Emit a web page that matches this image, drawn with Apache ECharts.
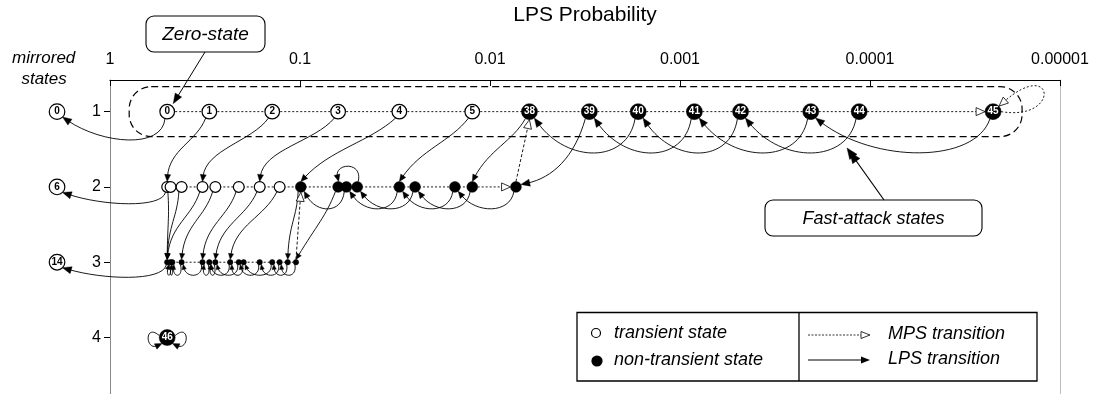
<!DOCTYPE html>
<html><head><meta charset="utf-8">
<script src="https://cdn.jsdelivr.net/npm/echarts@6/dist/echarts.min.js"></script>
<style>html,body{margin:0;padding:0;background:#fff}#c{width:1093px;height:394px}</style>
</head><body><div id="c"></div>
<script>
// ---------------- data ----------------
const xTickLabels = ['1', '0.1', '0.01', '0.001', '0.0001', '0.00001'];
const yTickValues = [1, 2, 3, 4];
const yTickLabels = ['1', '2', '3', '4'];
const xAxisName = 'LPS Probability';

// LPS probability of each state (index = state number)
const stateProb = [
  0.50, 0.30, 0.14, 0.063, 0.030, 0.0124,                 // 0-5
  0.50, 0.48, 0.42, 0.326, 0.279, 0.21, 0.163, 0.128,     // 6-13
  0.50, 0.48, 0.47, 0.42, 0.326, 0.30, 0.279, 0.233,      // 14-21
  0.21, 0.198, 0.163, 0.14, 0.128, 0.116, 0.105,          // 22-28
  0.099, 0.063, 0.057, 0.050, 0.030, 0.0248, 0.0153, 0.0124, 0.0073, // 29-37
  0.0062, 0.0030, 0.00166, 0.00084, 0.00048, 0.000205, 0.000114, 0.0000225, // 38-45
  0.50                                                    // 46
];
// number of mirrored states row
const stateRow = [
  1,1,1,1,1,1,
  2,2,2,2,2,2,2,2,
  3,3,3,3,3,3,3,3,3,3,3,3,3,3,3,
  2,2,2,2,2,2,2,2,2,
  1,1,1,1,1,1,1,1,
  4
];
// 1 = transient state (open circle)
const stateTransient = [
  1,1,1,1,1,1,
  1,1,1,1,1,1,1,1,
  0,0,0,0,0,0,0,0,0,0,0,0,0,0,0,
  0,0,0,0,0,0,0,0,0,
  0,0,0,0,0,0,0,0,
  0
];
// next state after MPS
const stateNMPS = [
  1,2,3,4,5,38,
  7,8,9,10,11,12,13,29,
  15,16,17,18,19,20,21,22,23,24,25,26,27,28,29,
  30,31,32,33,34,35,36,37,38,
  39,40,41,42,43,44,45,45,
  46
];
// next state after LPS ('m..' = mirrored state)
const stateNLPS = [
  'm0',6,9,12,29,33,
  'm6',14,14,14,17,18,20,21,
  'm14',14,15,16,17,18,19,19,20,21,22,23,24,25,26,
  27,28,29,30,31,32,33,34,35,
  36,37,38,39,40,41,42,43,
  46
];
const mirroredLabels = ['0', '6', '14'];
const mirroredRow = [1, 2, 3];
const mirroredProb = [1.9, 1.9, 1.9];

const legendNodeLabels = ['transient state', 'non-transient state'];
const legendEdgeLabels = ['MPS transition', 'LPS transition'];

// ---------------- helpers ----------------
const FONT = '"Liberation Sans", Arial, Helvetica, sans-serif';
const NARROW = '"Liberation Sans Narrow", "Liberation Sans", Arial, sans-serif';
const mpsArrowTargets = [37, 45];
const lpsAbove = [32];

function nodeRadius(row, tr) {
  if (row === 1) return tr ? 7.3 : 8;
  if (row === 2) return 5.4;
  if (row === 3) return 2.7;
  return 8;
}

const edges = [];
stateProb.forEach((p, i) => {
  edges.push({ kind: 'mps', from: i, to: stateNMPS[i] });
  edges.push({ kind: 'lps', from: i, to: stateNLPS[i] });
});

function nodePos(api, id) {
  if (typeof id === 'string') {
    const j = mirroredLabels.indexOf(id.slice(1));
    const c = api.coord([mirroredProb[j], mirroredRow[j]]);
    return { x: c[0], y: c[1], r: 7.8, row: mirroredRow[j] };
  }
  const c = api.coord([stateProb[id], stateRow[id]]);
  return { x: c[0], y: c[1], r: nodeRadius(stateRow[id], stateTransient[id] === 1), row: stateRow[id] };
}

function norm(v) { const l = Math.hypot(v[0], v[1]) || 1; return [v[0] / l, v[1] / l]; }
function arrow(tip, dir, len, hw, hollow) {
  const bx = tip[0] - dir[0] * len, by = tip[1] - dir[1] * len;
  const nx = -dir[1], ny = dir[0];
  return { type: 'polygon', z2: 3,
    shape: { points: [tip, [bx + nx * hw, by + ny * hw], [bx - nx * hw, by - ny * hw]] },
    style: { fill: hollow ? '#fff' : '#000', stroke: '#000', lineWidth: hollow ? 0.8 : 0.4 } };
}
function cubic(p0, p1, p2, p3, dash, lw) {
  return { type: 'bezierCurve',
    shape: { x1: p0[0], y1: p0[1], cpx1: p1[0], cpy1: p1[1], cpx2: p2[0], cpy2: p2[1], x2: p3[0], y2: p3[1] },
    style: { stroke: '#000', fill: 'none', lineWidth: lw || 0.9, lineDash: dash || null } };
}
function line(p0, p1, dash, lw) {
  return { type: 'line', shape: { x1: p0[0], y1: p0[1], x2: p1[0], y2: p1[1] },
    style: { stroke: '#000', lineWidth: lw || 0.9, lineDash: dash || null } };
}
function curveArrow(p0, p1, p2, p3, len, hw, hollow, dash) {
  const d = norm([p3[0] - p2[0], p3[1] - p2[1]]);
  const end = [p3[0] - d[0] * len * 0.7, p3[1] - d[1] * len * 0.7];
  return [cubic(p0, p1, p2, end, dash), arrow(p3, d, len, hw, hollow)];
}
function arrowSize(row) { return row === 1 ? [9, 3.6] : row === 2 ? [7, 3] : row === 3 ? [5, 2.2] : [7, 3]; }

function renderEdge(params, api) {
  const e = edges[params.dataIndex];
  const s = nodePos(api, e.from);
  const t = nodePos(api, e.to);
  let ch = [];
  const [al, ah] = arrowSize(s.row);
  if (e.kind === 'mps') {
    if (e.from === e.to) {
      if (s.row === 1) {
        ch = curveArrow([s.x + s.r, s.y], [s.x + 68, s.y + 10], [s.x + 62, s.y - 55],
          [s.x + 0.75 * s.r, s.y - 0.7 * s.r], 9, 4, true, [2, 2]);
      } else {
        ch = curveArrow([s.x - s.r, s.y - 2], [s.x - 23, s.y - 15], [s.x - 22, s.y + 14],
          [s.x - 0.65 * s.r, s.y + 0.75 * s.r], 7, 3, false);
      }
    } else if (t.row === s.row) {
      if (mpsArrowTargets.indexOf(e.to) >= 0) {
        const tip = [t.x - t.r, t.y];
        ch = [line([s.x + s.r, s.y], [tip[0] - 6, tip[1]], [2, 2]), arrow(tip, [1, 0], 9, 4, true)];
      } else {
        ch = [line([s.x, s.y], [t.x, t.y], [2, 2])];
      }
    } else {
      const start = [s.x, s.y - s.r], tip = [t.x, t.y + t.r];
      const d = norm([tip[0] - start[0], tip[1] - start[1]]);
      ch = [line(start, [tip[0] - d[0] * 6, tip[1] - d[1] * 6], [3, 2]), arrow(tip, d, 9, 4, true)];
    }
  } else {
    if (typeof e.to === 'string') {
      const h = s.row === 1 ? 38 : s.row === 2 ? 22 : 20;
      ch = curveArrow([s.x - 0.3 * s.r, s.y + 0.95 * s.r], [s.x - 5, s.y + h], [t.x + 45, t.y + 0.85 * h],
        [t.x + 0.7 * t.r, t.y + 0.7 * t.r], 9, 3.6, false);
    } else if (e.to === e.from) {
      ch = curveArrow([s.x + s.r, s.y - 2], [s.x + 23, s.y - 15], [s.x + 22, s.y + 14],
        [s.x + 0.65 * s.r, s.y + 0.75 * s.r], 7, 3, false);
    } else if (t.row === s.row) {
      const d = s.x - t.x;
      if (lpsAbove.indexOf(e.from) >= 0) {
        ch = curveArrow([s.x + 1, s.y - s.r], [s.x + 6, s.y - 26], [t.x - 4, t.y - 24],
          [t.x + 0.5, t.y - t.r], al, ah, false);
      } else {
        const h = s.row === 1 ? 52 : s.row === 2 ? 27 : 16;
        const sp = s.row === 3 ? 3 : 0;
        ch = curveArrow([s.x - 0.4 * s.r, s.y + 0.92 * s.r], [s.x - 0.1 * d + sp, s.y + h],
          [t.x + 0.35 * d - sp, t.y + h], [t.x + 0.6 * t.r, t.y + 0.8 * t.r], al, ah, false);
      }
    } else {
      const dx = s.x - t.x, dy = t.y - s.y;
      const [tl, th] = arrowSize(t.row);
      let c = s.row === 1 ? 0.3 : 0.1;
      if (stateTransient[e.to] === 1) c = 0.05;
      if (e.from === 30) c = 0.5;
      if (e.from === 39) {
        ch = curveArrow([s.x - 0.5 * s.r, s.y + 0.87 * s.r], [s.x - 0.2 * dx, s.y + 0.6 * dy],
          [t.x + 0.5 * dx, t.y - 0.12 * dy], [t.x + 0.9 * t.r, t.y - 0.45 * t.r], 9, 3.6, false);
      } else {
        ch = curveArrow([s.x - 0.5 * s.r, s.y + 0.87 * s.r], [s.x - 0.3 * dx, s.y + 0.4 * dy],
          [t.x + c * dx, t.y - 0.5 * dy], [t.x, t.y - t.r], Math.max(tl, 6), Math.max(th, 2.6), false);
      }
    }
  }
  return { type: 'group', children: ch };
}

function renderDecor(params, api) {
  const a = api.coord([stateProb[0], 1]);
  const b = api.coord([stateProb[45], 1]);
  const z0 = a;
  const ch = [];
  // dashed fast-attack enclosure
  ch.push({ type: 'rect', shape: { x: a[0] - 38, y: a[1] - 25, width: (b[0] + 29) - (a[0] - 38), height: 50, r: 22 },
    style: { fill: 'none', stroke: '#000', lineWidth: 1.2, lineDash: [7, 4] } });
  // Zero-state callout
  ch.push({ type: 'rect', shape: { x: 146, y: 16, width: 119, height: 36, r: 8 },
    style: { fill: '#fff', stroke: '#000', lineWidth: 1.1 } });
  ch.push({ type: 'text', style: { text: 'Zero-state', x: 205.5, y: 34.5, align: 'center', verticalAlign: 'middle',
    font: 'italic 19px ' + FONT, fill: '#000' } });
  const tip0 = [z0[0] + 6, z0[1] - 8];
  const d0 = norm([tip0[0] - 205, tip0[1] - 52]);
  ch.push(line([205, 52], [tip0[0] - d0[0] * 6, tip0[1] - d0[1] * 6], null, 1));
  ch.push(arrow(tip0, d0, 10, 3.8, false));
  // Fast-attack callout
  ch.push({ type: 'rect', shape: { x: 765, y: 200, width: 217, height: 36, r: 8 },
    style: { fill: '#fff', stroke: '#000', lineWidth: 1.1 } });
  ch.push({ type: 'text', style: { text: 'Fast-attack states', x: 873.5, y: 218.5, align: 'center', verticalAlign: 'middle',
    font: 'italic 18px ' + FONT, fill: '#000' } });
  const tip1 = [847, 148];
  const d1 = norm([tip1[0] - 884, tip1[1] - 200]);
  ch.push(line([884, 200], [tip1[0] - d1[0] * 8, tip1[1] - d1[1] * 8], null, 1.2));
  ch.push(arrow(tip1, d1, 11, 4.5, false));
  ch.push(arrow([tip1[0] + d1[0] * -5, tip1[1] + d1[1] * -5], d1, 11, 4.5, false));
  return { type: 'group', children: ch };
}

// ---------------- series data ----------------
const nodesData = stateProb.map((p, i) => {
  const row = stateRow[i], tr = stateTransient[i] === 1;
  const r = nodeRadius(row, tr);
  return {
    value: [p, row],
    symbolSize: 2 * r,
    itemStyle: tr ? { color: '#fff', borderColor: '#000', borderWidth: 1.2, opacity: 1 }
                  : { color: '#000', borderColor: '#000', borderWidth: 0.5, opacity: 1 },
    label: { show: row === 1 || row === 4, formatter: String(i), position: 'inside',
      color: tr ? '#000' : '#fff', fontWeight: 'bold', fontSize: 10,
      fontFamily: NARROW }
  };
});
const mirroredData = mirroredLabels.map((lab, j) => ({
  value: [mirroredProb[j], mirroredRow[j]],
  symbolSize: 15.6,
  itemStyle: { color: '#fff', borderColor: '#000', borderWidth: 1.2, opacity: 1 },
  label: { show: true, formatter: lab, position: 'inside', color: '#000', fontSize: 10, fontWeight: 'bold', fontFamily: NARROW }
}));

const chart = echarts.init(document.getElementById('c'));
chart.setOption({
  animation: false,
  backgroundColor: '#fff',
  grid: { left: 110, right: 33, top: 76, bottom: 0, containLabel: false },
  xAxis: {
    type: 'log', logBase: 10, min: 1e-5, max: 1, inverse: true, position: 'top', splitNumber: 5,
    name: xAxisName, nameLocation: 'middle', nameGap: 54,
    nameTextStyle: { fontSize: 21, color: '#000', fontFamily: FONT },
    axisLine: { show: true, lineStyle: { color: '#000', width: 1.2 } },
    axisTick: { show: true, inside: true, length: 6, lineStyle: { color: '#000' } },
    minorTick: { show: false }, splitLine: { show: false },
    axisLabel: { fontSize: 16, color: '#000', fontFamily: FONT, margin: 12,
      formatter: v => xTickLabels[Math.round(-Math.log10(v))] }
  },
  yAxis: [{
    type: 'value', min: 0.58, max: 4.75, inverse: true,
    axisLine: { show: true, lineStyle: { color: '#888', width: 1 } },
    axisTick: { show: true, length: 6, customValues: yTickValues, lineStyle: { color: '#000' } },
    axisLabel: { customValues: yTickValues, fontSize: 16, color: '#000', fontFamily: FONT, margin: 9,
      formatter: v => yTickLabels[yTickValues.indexOf(Math.round(v))] },
    splitLine: { show: false }
  }, {
    type: 'value', min: 0.58, max: 4.75, inverse: true, position: 'right',
    axisLine: { show: true, lineStyle: { color: '#bbb', width: 1 } },
    axisTick: { show: false }, axisLabel: { show: false }, splitLine: { show: false }
  }],
  series: [
    { type: 'custom', name: 'decor', renderItem: renderDecor, data: [[1, 1]], z: 1, silent: true, clip: false },
    { type: 'custom', name: 'transitions', renderItem: renderEdge,
      data: edges.map(e => [stateProb[e.from], stateRow[e.from]]), z: 2, silent: true, clip: false },
    { type: 'scatter', name: 'states', data: nodesData, symbol: 'circle', z: 5, clip: false, silent: true },
    { type: 'scatter', name: 'mirrored', data: mirroredData, symbol: 'circle', z: 5, clip: false, silent: true }
  ],
  graphic: [
    { type: 'text', left: 12, top: 48, style: { text: 'mirrored\n  states', font: 'italic 17px ' + FONT, fill: '#000', lineHeight: 21 } },
    { type: 'rect', shape: { x: 577, y: 312.5, width: 460, height: 68.5 }, style: { fill: '#fff', stroke: '#000', lineWidth: 1.3 }, z: 10 },
    { type: 'line', shape: { x1: 799, y1: 312.5, x2: 799, y2: 381 }, style: { stroke: '#000', lineWidth: 1.3 }, z: 11 },
    { type: 'circle', shape: { cx: 596, cy: 333, r: 4.5 }, style: { fill: '#fff', stroke: '#000', lineWidth: 1.2 }, z: 11 },
    { type: 'circle', shape: { cx: 597, cy: 361, r: 5.6 }, style: { fill: '#000' }, z: 11 },
    { type: 'text', x: 614, y: 333, style: { text: legendNodeLabels[0], font: 'italic 18px ' + FONT, fill: '#000', verticalAlign: 'middle' }, z: 11 },
    { type: 'text', x: 614, y: 360, style: { text: legendNodeLabels[1], font: 'italic 18px ' + FONT, fill: '#000', verticalAlign: 'middle' }, z: 11 },
    { type: 'line', shape: { x1: 808, y1: 335, x2: 864, y2: 335 }, style: { stroke: '#000', lineWidth: 0.8, lineDash: [2, 1.5] }, z: 11 },
    { type: 'polygon', shape: { points: [[870, 335], [861, 331.5], [861, 338.5]] }, style: { fill: '#fff', stroke: '#000', lineWidth: 0.8 }, z: 11 },
    { type: 'line', shape: { x1: 808, y1: 360, x2: 864, y2: 360 }, style: { stroke: '#000', lineWidth: 1 }, z: 11 },
    { type: 'polygon', shape: { points: [[870, 360], [861, 356.5], [861, 363.5]] }, style: { fill: '#000' }, z: 11 },
    { type: 'text', x: 888, y: 334, style: { text: legendEdgeLabels[0], font: 'italic 18px ' + FONT, fill: '#000', verticalAlign: 'middle' }, z: 11 },
    { type: 'text', x: 888, y: 359, style: { text: legendEdgeLabels[1], font: 'italic 18px ' + FONT, fill: '#000', verticalAlign: 'middle' }, z: 11 }
  ]
});
</script>
</body></html>
